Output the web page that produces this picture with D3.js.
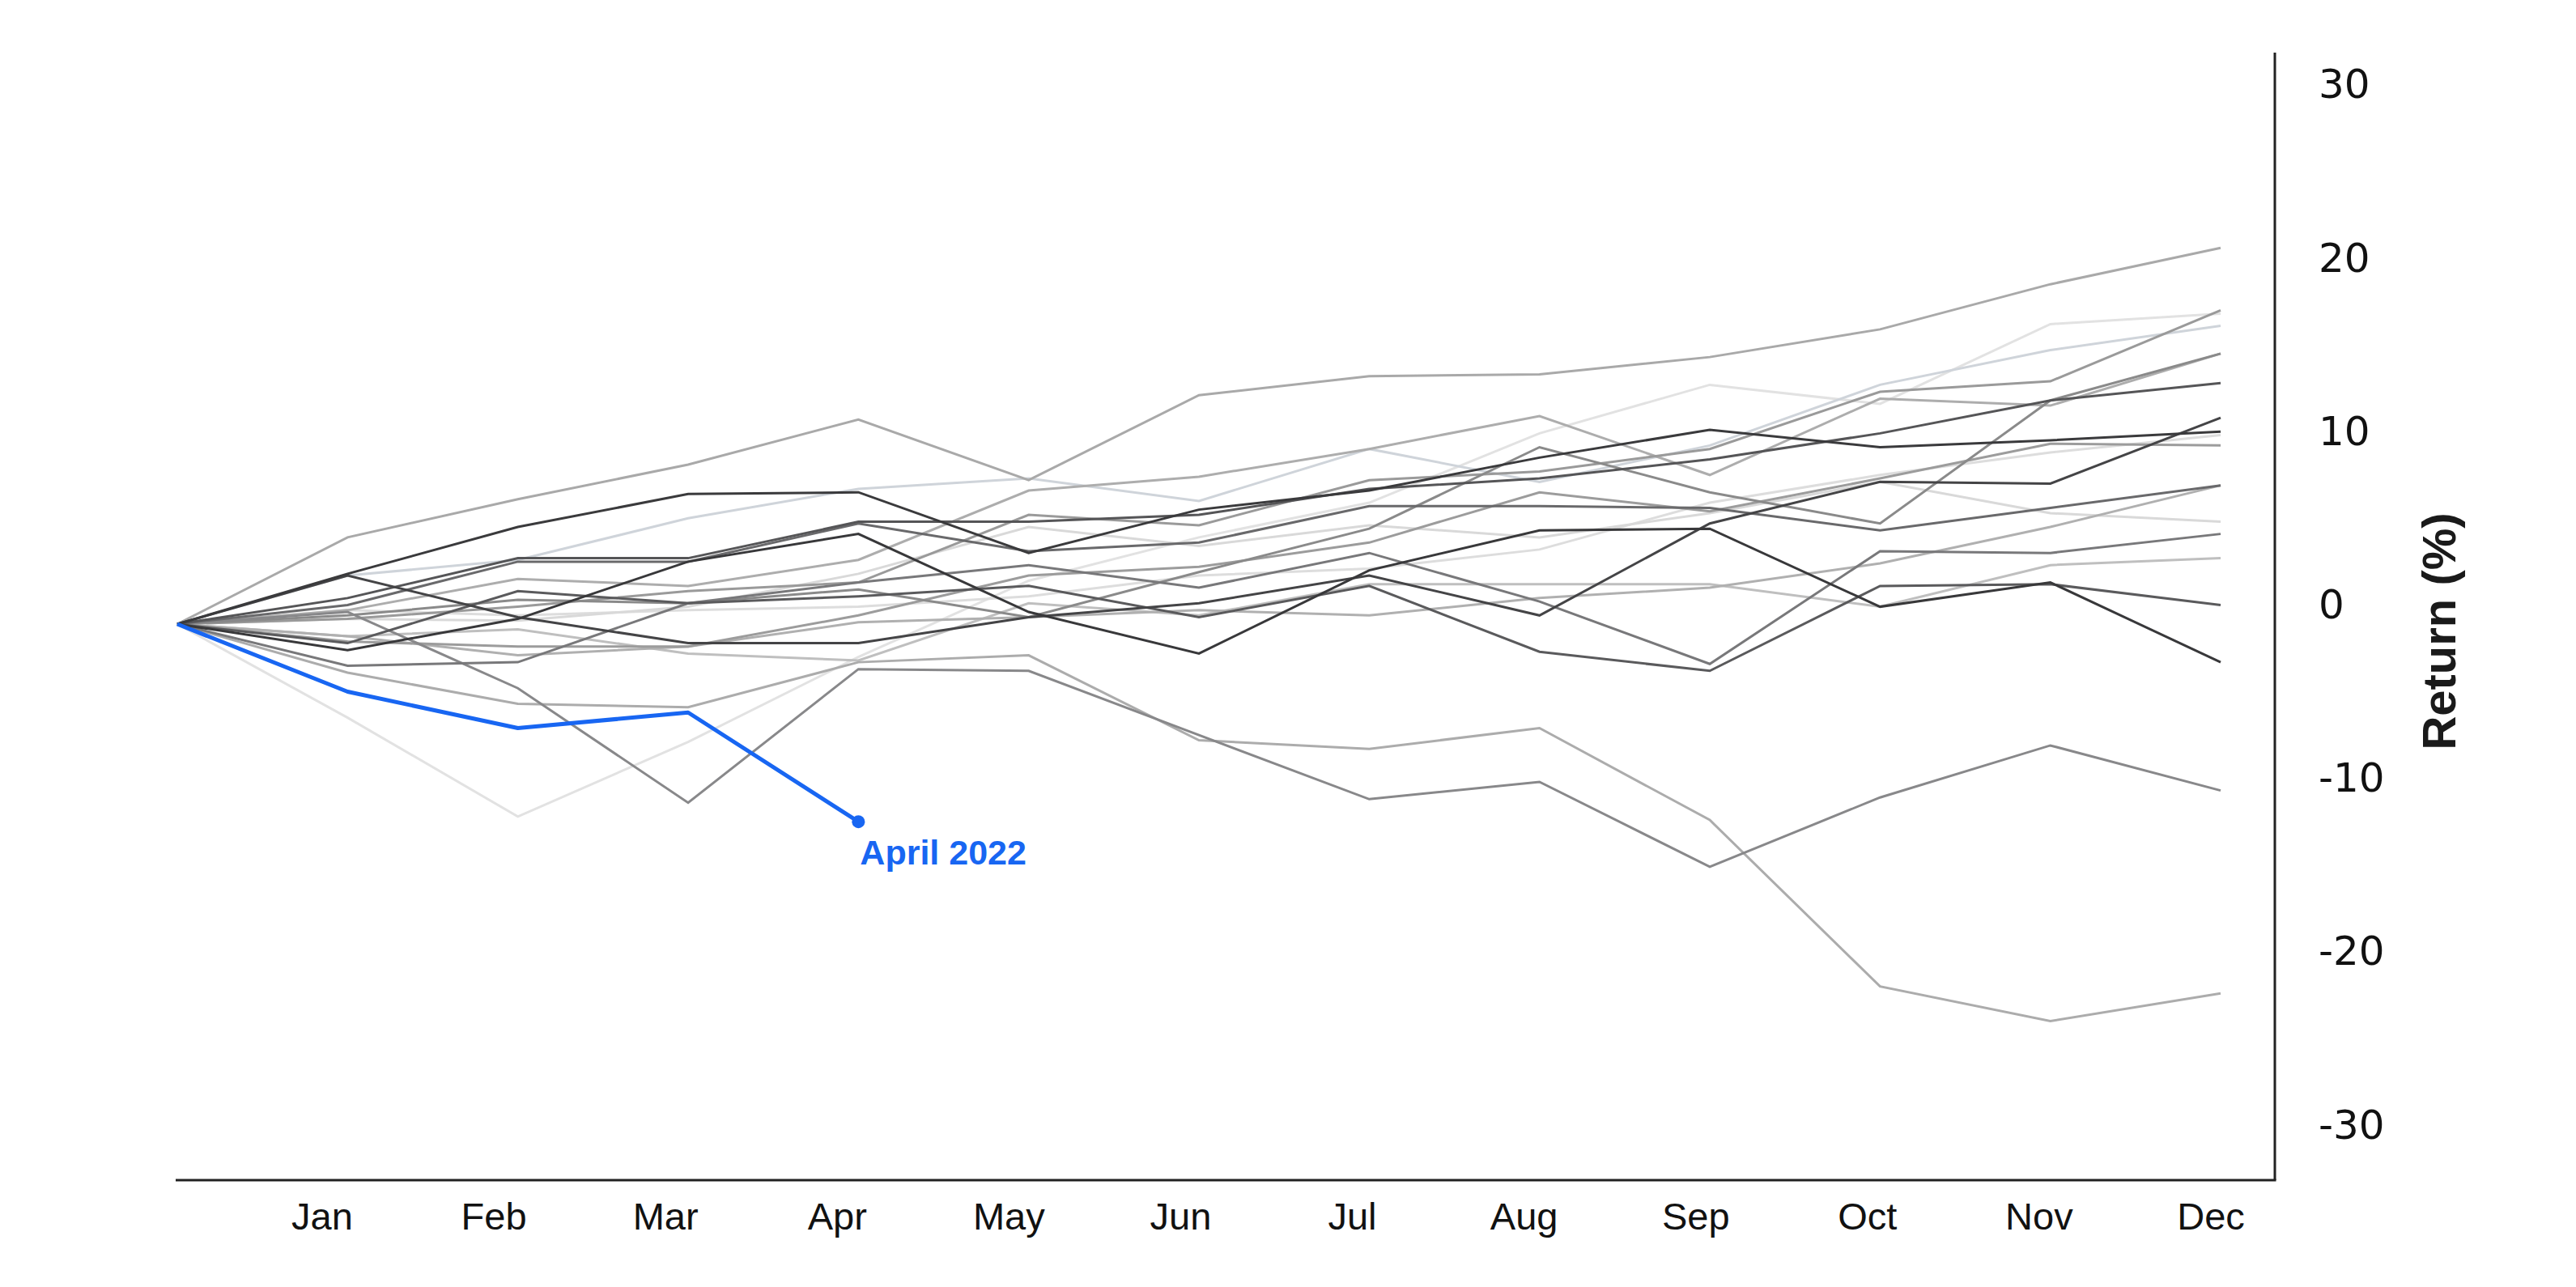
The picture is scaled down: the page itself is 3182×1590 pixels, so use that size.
<!DOCTYPE html>
<html>
<head>
<meta charset="utf-8">
<script src="https://cdn.jsdelivr.net/npm/d3@7"></script>
<style>
  html, body { margin: 0; padding: 0; background: #fff; }
  svg { display: block; }
</style>
</head>
<body>
<div id="chart"></div>
<script>
// month labels along the bottom
const months = ["Jan", "Feb", "Mar", "Apr", "May", "Jun", "Jul", "Aug", "Sep", "Oct", "Nov", "Dec"];
// y tick labels on the right
const yTicks = [30, 20, 10, 0, -10, -20, -30];
// every line starts from the same point
const startValue = 0;

// cumulative return (%) for past years, Jan..Dec
const yearA = [5.0, 7.2, 9.2, 11.8, 8.3, 13.2, 14.3, 14.4, 15.4, 17.0, 19.6, 21.7];
const yearB = [2.9, 5.6, 7.5, 7.6, 4.1, 6.6, 7.7, 9.6, 11.2, 10.2, 10.6, 11.1];
const yearC = [2.8, 3.7, 6.1, 7.8, 8.4, 7.1, 10.1, 8.2, 10.3, 13.8, 15.8, 17.2];
const yearD = [-5.4, -11.1, -6.8, -1.9, 2.5, 5.0, 7.0, 11.0, 13.8, 12.7, 17.3, 17.9];
const yearE = [0.3, 1.0, 1.9, 2.4, 6.3, 5.7, 8.3, 8.8, 10.1, 13.4, 14.0, 18.1];
const yearF = [0.8, 2.6, 2.2, 3.7, 7.7, 8.5, 10.1, 12.0, 8.6, 13.0, 12.6, 15.6];
const yearG = [0.5, 1.4, 1.2, 2.0, 0.4, 3.0, 5.5, 10.2, 7.6, 5.8, 12.9, 15.6];
const yearH = [1.5, 3.8, 3.8, 5.9, 5.9, 6.3, 7.8, 8.4, 9.5, 11.0, 12.9, 13.9];
const yearI = [2.8, 0.4, -1.1, -1.1, 0.4, 1.2, 2.8, 0.5, 5.8, 8.2, 8.1, 11.9];
const yearJ = [0.8, 0.5, 0.8, 1.0, 1.6, 2.8, 3.2, 4.3, 7.0, 8.6, 9.9, 10.9];
const yearK = [-1.0, -1.3, -1.3, 0.5, 2.8, 3.3, 4.7, 7.6, 6.5, 8.4, 10.4, 10.3];
const yearL = [1.1, 3.6, 3.6, 5.8, 4.2, 4.7, 6.8, 6.8, 6.7, 5.4, 6.7, 8.0];
const yearM = [-0.7, -1.8, -1.3, 0.1, 0.4, 0.8, 0.5, 1.5, 2.1, 3.5, 5.6, 8.0];
const yearN = [0.3, 0.2, 1.0, 2.9, 5.6, 4.5, 5.7, 5.0, 6.4, 8.2, 6.4, 5.9];
const yearO = [-2.4, -2.2, 1.2, 2.4, 3.4, 2.1, 4.1, 1.3, -2.3, 4.2, 4.1, 5.2];
const yearP = [-2.8, -4.6, -4.8, -2.2, -1.8, -6.7, -7.2, -6.0, -11.3, -20.9, -22.9, -21.3];
const yearQ = [0.7, -3.7, -10.3, -2.6, -2.7, -6.4, -10.1, -9.1, -14.0, -10.0, -7.0, -9.6];
const yearR = [-0.7, -0.3, -1.7, -2.1, 1.2, 0.5, 2.3, 2.3, 2.3, 1.0, 3.4, 3.8];
const yearS = [-1.1, 1.9, 1.2, 1.6, 2.2, 0.4, 2.2, -1.6, -2.7, 2.2, 2.3, 1.1];
const yearT = [-1.5, 0.3, 3.6, 5.2, 0.7, -1.7, 3.1, 5.4, 5.5, 1.0, 2.4, -2.2];

// 2022 so far (Jan..Apr)
const year2022 = [-3.9, -6.0, -5.1, -11.4];
const highlightLabel = "April 2022";

const pastYears = [yearA, yearB, yearC, yearD, yearE, yearF, yearG, yearH, yearI, yearJ,
                   yearK, yearL, yearM, yearN, yearO, yearP, yearQ, yearR, yearS, yearT];
// one grey per past year (same order as above)
const pastGreys = ["#a9a9a9", "#3a3a3c", "#cfd4da", "#e2e2e2", "#9a9a9a", "#adadad", "#8a8a8a",
                   "#555557", "#444446", "#dddddd", "#9c9c9c", "#69696b", "#b0b0b0", "#d9d9d9",
                   "#78787a", "#acacac", "#88888a", "#bfbfbf", "#5a5a5c", "#38383a"];

const width = 3182;
const height = 1590;

const svg = d3.select("#chart").append("svg")
    .attr("width", width)
    .attr("height", height)
    .style("background", "#fff");

// scales: index 0 is the start point, 1..12 are the months
const x = d3.scaleLinear().domain([0, 12]).range([219, 2743]);
const y = d3.scaleLinear().domain([-30, 30]).range([1413.6, 128.4]);
const xLabel = d3.scalePoint().domain(months).range([398, 2731]);

const axisRight = 2810;
const axisBottom = 1458;

// axis lines
svg.append("line")
    .attr("x1", 217).attr("x2", axisRight + 1.5)
    .attr("y1", axisBottom).attr("y2", axisBottom)
    .attr("stroke", "#222").attr("stroke-width", 3);
svg.append("line")
    .attr("x1", axisRight).attr("x2", axisRight)
    .attr("y1", 65).attr("y2", axisBottom)
    .attr("stroke", "#222").attr("stroke-width", 3);

// month labels
svg.append("g").selectAll("text")
    .data(months)
    .join("text")
    .attr("x", d => xLabel(d))
    .attr("y", 1519)
    .attr("text-anchor", "middle")
    .attr("font-family", "'Liberation Sans', Arial, sans-serif")
    .attr("font-size", 47)
    .attr("fill", "#111")
    .text(d => d);

// y tick labels (sit a little above the value they name)
svg.append("g").selectAll("text")
    .data(yTicks)
    .join("text")
    .attr("x", 2864)
    .attr("y", d => y(d) - 25)
    .attr("dy", "0.36em")
    .attr("font-family", "'DejaVu Sans', sans-serif")
    .attr("font-size", 50)
    .attr("fill", "#111")
    .text(d => d);

// axis title
svg.append("text")
    .attr("transform", "translate(3033,780) rotate(-90)")
    .attr("text-anchor", "middle")
    .attr("font-family", "'Liberation Sans', Arial, sans-serif")
    .attr("font-weight", "bold")
    .attr("font-size", 58)
    .attr("fill", "#1a1a1a")
    .text("Return (%)");

const line = d3.line()
    .x((d, i) => x(i))
    .y(d => y(d));

// lighter lines underneath, darker on top
const past = pastYears.map((vals, i) => ({ vals: [startValue, ...vals], color: pastGreys[i] }));
past.sort((a, b) => d3.hsl(b.color).l - d3.hsl(a.color).l);

svg.append("g").selectAll("path")
    .data(past)
    .join("path")
    .attr("d", d => line(d.vals))
    .attr("fill", "none")
    .attr("stroke", d => d.color)
    .attr("stroke-width", 3)
    .attr("stroke-linejoin", "miter");

// 2022 highlight
const current = [startValue, ...year2022];
svg.append("path")
    .attr("d", line(current))
    .attr("fill", "none")
    .attr("stroke", "#1866f2")
    .attr("stroke-width", 5)
    .attr("stroke-linejoin", "round");

const lastIdx = current.length - 1;
svg.append("circle")
    .attr("cx", x(lastIdx))
    .attr("cy", y(current[lastIdx]))
    .attr("r", 8)
    .attr("fill", "#1866f2");

svg.append("text")
    .attr("x", x(lastIdx) + 2)
    .attr("y", y(current[lastIdx]) + 53)
    .attr("font-family", "'Liberation Sans', Arial, sans-serif")
    .attr("font-weight", "bold")
    .attr("font-size", 43)
    .attr("fill", "#1866f2")
    .text(highlightLabel);
</script>
</body>
</html>
